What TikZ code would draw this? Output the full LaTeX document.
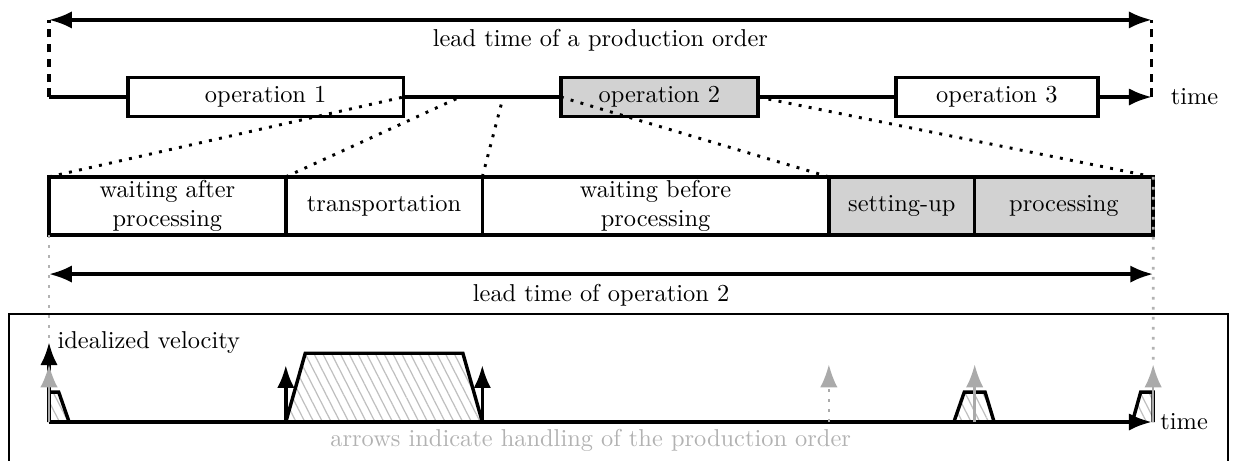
\documentclass[tikz,border=0pt]{standalone}
\usepackage{amsmath}
\usepackage{tikz}
\usetikzlibrary{positioning, arrows.meta, patterns.meta}

\begin{document}
\begin{tikzpicture}[>={Latex[length=3.3mm, width=2.5mm]},
  heavy/.style={line width=1.4pt},
  opbox/.style={draw, heavy, fill=white, minimum height=0.56cm, inner sep=0pt, outer sep=0pt},
  part/.style={draw, heavy, fill=white, minimum height=0.84cm, inner sep=0pt, outer sep=0pt, align=center},
  busy/.style={fill=gray!35},
  zoomline/.style={line width=1.2pt, dash pattern=on 1.2pt off 3pt},
  guide/.style={gray!60, line width=1.1pt, dash pattern=on 1.1pt off 3pt},
  hatch/.style={heavy, pattern={Lines[angle=-63, distance=3.2pt, line width=0.5pt]}, pattern color=gray!50},
  move/.style={heavy, ->},
  handle/.style={line width=1pt, gray!67, ->}]

\clip (-0.7056,-5.2272) rectangle (17.0496,1.3968);

% order time line
\coordinate (t0) at (0,0);
\coordinate (t1) at (15.88,0);
\draw[heavy, ->] (t0) -- (t1);
\node[right=0.15cm of t1] (time1) {time};

\node[opbox, minimum width=3.97cm] (op1) at (3.12,0) {operation 1};
\node[opbox, busy, minimum width=2.84cm] (op2) at (8.79,0) {operation 2};
\node[opbox, minimum width=2.91cm] (op3) at (13.65,0) {operation 3};

\coordinate (lt0) at (0,1.11);
\coordinate (lt1) at (15.88,1.11);
\draw[heavy, <->] (lt0) -- node[below] (lt) {lead time of a production order} (lt1);
\draw[heavy, dash pattern=on 3.5pt off 2.6pt] (t0) -- (lt0);
\draw[heavy, dash pattern=on 3.5pt off 2.6pt] (t1) -- (lt1);

% parts of operation 2
\node[part, minimum width=3.41cm] (wa) at (1.705,-1.57) {waiting after\\processing};
\node[part, minimum width=2.83cm, right=0pt of wa] (tr) {transportation};
\node[part, minimum width=4.99cm, right=0pt of tr] (wb) {waiting before\\processing};
\node[part, busy, minimum width=2.10cm, right=0pt of wb] (su) {setting-up};
\node[part, busy, minimum width=2.57cm, right=0pt of su] (pr) {processing};

\coordinate (tr0) at (5.92,0);
\coordinate (wb0) at (6.54,0);
\draw[zoomline] (wa.north west) -- (op1.east);
\draw[zoomline] (tr.north west) -- (tr0);
\draw[zoomline] (wb.north west) -- (wb0);
\draw[zoomline] (su.north west) -- (op2.west);
\draw[zoomline] (pr.north east) -- (op2.east);

% velocity over time
\coordinate (v0) at (0,-3.53);
\coordinate (m1) at (3.41,-3.86);
\coordinate (m2) at (6.24,-3.86);
\coordinate (h1) at (0,-3.85);
\coordinate (h2) at (11.23,-3.85);
\coordinate (h3) at (13.33,-3.85);
\coordinate (h4) at (15.90,-3.85);

\draw[guide] (wa.south west) -- (v0);
\draw[guide] (pr.north east) -- (h4);

\coordinate (lo0) at (0,-2.55);
\coordinate (lo1) at (15.90,-2.55);
\draw[heavy, <->] (lo0) -- node[below] (lo) {lead time of operation 2} (lo1);

\draw[thick] (-0.576,-5.5) rectangle (16.98,-3.125);

\coordinate (a0) at (0,-4.68);
\coordinate (a1) at (15.88,-4.68);

\draw[hatch] (0,-4.68) -- (0,-4.25) -- (0.14,-4.25) -- (0.29,-4.68);
\draw[hatch] (3.41,-4.68) -- (3.69,-3.69) -- (5.96,-3.69) -- (6.24,-4.68);
\draw[hatch] (13.03,-4.68) -- (13.18,-4.25) -- (13.48,-4.25) -- (13.61,-4.68);
\draw[hatch] (15.60,-4.68) -- (15.72,-4.25) -- (15.90,-4.25) -- (15.90,-4.68);

\draw[heavy, ->] (a0) -- (a1);
\node[right=0pt of a1] (time2) {time};

\draw[move] (a0) -- (v0);
\draw[move] (m1 |- a0) -- (m1);
\draw[move] (m2 |- a0) -- (m2);
\draw[handle] (a0) -- (h1);
\draw[handle, dash pattern=on 1.1pt off 3pt] (h2 |- a0) -- (h2);
\draw[handle] (h3 |- a0) -- (h3);
\draw[handle] (h4 |- a0) -- (h4);

\node[right=0pt of v0] (vel) {idealized velocity};
\node[gray!60] (note) at (7.8,-4.95) {arrows indicate handling of the production order};

\end{tikzpicture}
\end{document}
